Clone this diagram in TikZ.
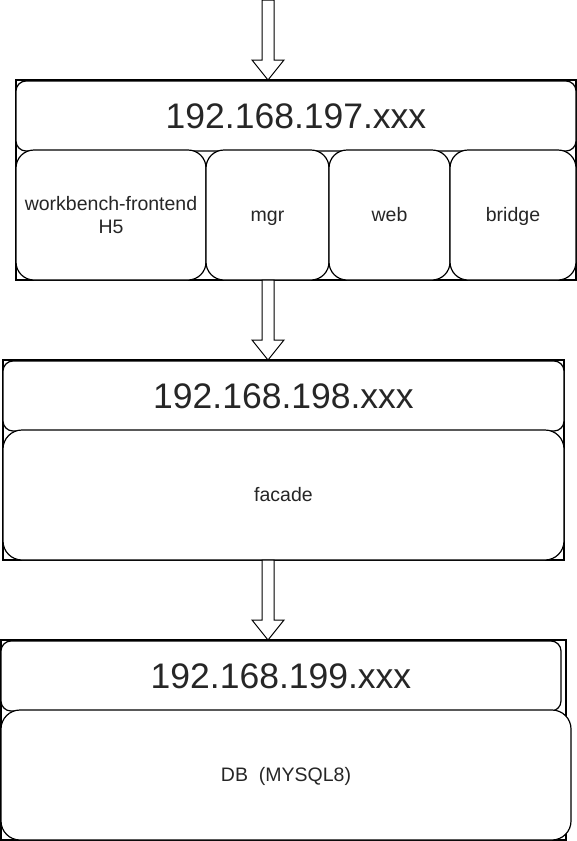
\documentclass[tikz,border=0pt]{standalone}
\usepackage{fontspec}
\setmainfont{Liberation Sans}
\usetikzlibrary{calc}
\begin{document}
\begin{tikzpicture}[x=1pt,y=-1pt,
  grp/.style={draw, line width=1.2pt, fill=white, inner sep=0pt, outer sep=0pt},
  box/.style={draw, line width=1.2pt, fill=white, inner sep=0pt, outer sep=0pt, align=center,
              font=\fontsize{19.5}{23}\selectfont, text=black!85},
  oneline/.style={text height=17pt, text depth=4pt},
  ip/.style={font=\fontsize{35.5}{42}\selectfont},
  flatarrow/.style={draw, line width=1pt, fill=white, line join=miter}]
\useasboundingbox (0,0) rectangle (577,841);

% group 1
\node[grp, minimum width=560, minimum height=200] (g1) at (296,180) {};
\node[box, ip, rounded corners=10, minimum width=560, minimum height=70] (h1) at (296,116) {192.168.197.xxx};
\node[box, rounded corners=18, minimum width=190, minimum height=130] (wb) at (111,215) {workbench-frontend\\H5};
\node[box, oneline, rounded corners=18, minimum width=123, minimum height=130] (mgr) at (267.5,215) {mgr};
\node[box, oneline, rounded corners=18, minimum width=121, minimum height=130] (web) at (389.5,215) {web};
\node[box, oneline, rounded corners=18, minimum width=126, minimum height=130] (bridge) at (513,215) {bridge};

% group 2
\node[grp, minimum width=561, minimum height=200] (g2) at (283.5,460) {};
\node[box, ip, rounded corners=10, minimum width=561, minimum height=70] (h2) at (283.5,396) {192.168.198.xxx};
\node[box, oneline, rounded corners=19, minimum width=561, minimum height=130] (facade) at (283.5,495) {facade};

% group 3
\node[grp, minimum width=565, minimum height=200] (g3) at (283.5,740) {};
\node[box, ip, rounded corners=10, minimum width=560, minimum height=70] (h3) at (281,676) {192.168.199.xxx};
\node[box, oneline, rounded corners=19, minimum width=570, minimum height=130] (db) at (286,775) {DB~~(MYSQL8)};

% arrows
\coordinate (a1s) at (268,0);
\coordinate (a1e) at (a1s |- g1.north);
\coordinate (a2s) at (a1s |- g1.south);
\coordinate (a2e) at (a1s |- g2.north);
\coordinate (a3s) at (a1s |- g2.south);
\coordinate (a3e) at (a1s |- g3.north);
\foreach \s/\e in {a1s/a1e, a2s/a2e, a3s/a3e}{
  \draw[flatarrow] ($(\s)+(-6,0)$) -- ($(\e)+(-6,-20)$) -- ($(\e)+(-16,-20)$) -- (\e)
    -- ($(\e)+(16,-20)$) -- ($(\e)+(6,-20)$) -- ($(\s)+(6,0)$) -- cycle;
}
\end{tikzpicture}
\end{document}
